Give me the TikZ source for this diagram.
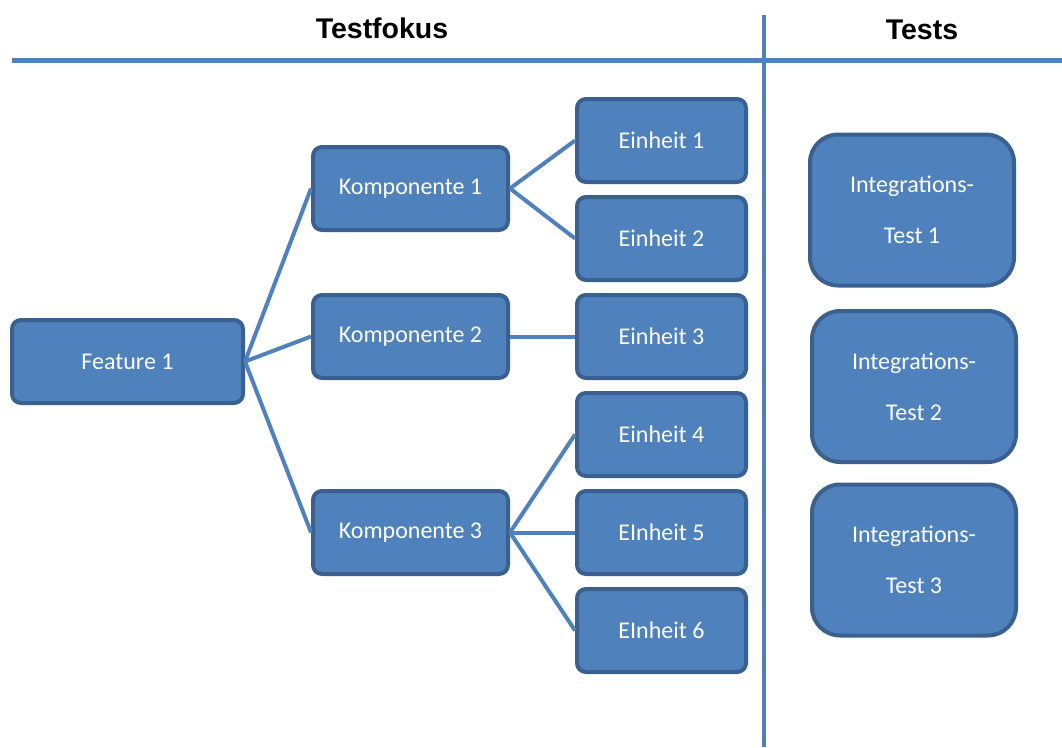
\documentclass[tikz,border=0pt]{standalone}
\usepackage{fontspec}
\setmainfont{Carlito}
\newfontfamily\headfont{Liberation Sans}
\definecolor{boxfill}{HTML}{4F81BD}
\definecolor{boxedge}{HTML}{3A6090}
\definecolor{rulecol}{HTML}{4F81BD}
\begin{document}
\begin{tikzpicture}[x=1pt,y=-1pt,
  box/.style={draw=boxedge,fill=boxfill,line width=4pt,rounded corners=9pt,
    text=white,font=\fontsize{24}{29}\selectfont,minimum height=83pt,inner sep=0pt},
  featbox/.style={box,minimum width=231pt},
  compbox/.style={box,minimum width=195pt},
  unitbox/.style={box,minimum width=169pt},
  itestbox/.style={box,minimum width=204pt,minimum height=151pt,rounded corners=28pt,
    align=center,font=\fontsize{24}{51}\selectfont},
  link/.style={draw=rulecol,line width=4pt},
  heading/.style={font=\headfont\bfseries\fontsize{28.5}{34}\selectfont,text=black}]
\useasboundingbox (0,0) rectangle (1062,747);

% column rules
\draw[rulecol,line width=5pt] (12,60) -- (1062,60);
\draw[rulecol,line width=4pt] (764,15) -- (764,747);

% headings
\node[heading] (hfocus) at (382,28) {Testfokus};
\node[heading] (htests) at (922,30) {Tests};

% tree of feature, components and units
\node[featbox] (f1) at (127.5,361.5) {Feature 1};
\node[compbox] (k1) at (410.5,188.5) {Komponente 1};
\node[compbox] (k2) at (410.5,336.5) {Komponente 2};
\node[compbox] (k3) at (410.5,532.5) {Komponente 3};
\node[unitbox] (e1) at (661.5,140.5) {Einheit 1};
\node[unitbox] (e2) at (661.5,238.5) {Einheit 2};
\node[unitbox] (e3) at (661.5,336.5) {Einheit 3};
\node[unitbox] (e4) at (661.5,434.5) {Einheit 4};
\node[unitbox] (e5) at (661.5,532.5) {EInheit 5};
\node[unitbox] (e6) at (661.5,630.5) {EInheit 6};

\draw[link] (f1.east) -- (k1.west);
\draw[link] (f1.east) -- (k2.west);
\draw[link] (f1.east) -- (k3.west);
\draw[link] (k1.east) -- (e1.west);
\draw[link] (k1.east) -- (e2.west);
\draw[link] (k2.east) -- (e3.west);
\draw[link] (k3.east) -- (e4.west);
\draw[link] (k3.east) -- (e5.west);
\draw[link] (k3.east) -- (e6.west);

% integration tests
\node[itestbox] (t1) at (912,210) {Integrations-\\Test 1};
\node[itestbox] (t2) at (914,386.5) {Integrations-\\Test 2};
\node[itestbox] (t3) at (914,560) {Integrations-\\Test 3};
\end{tikzpicture}
\end{document}
